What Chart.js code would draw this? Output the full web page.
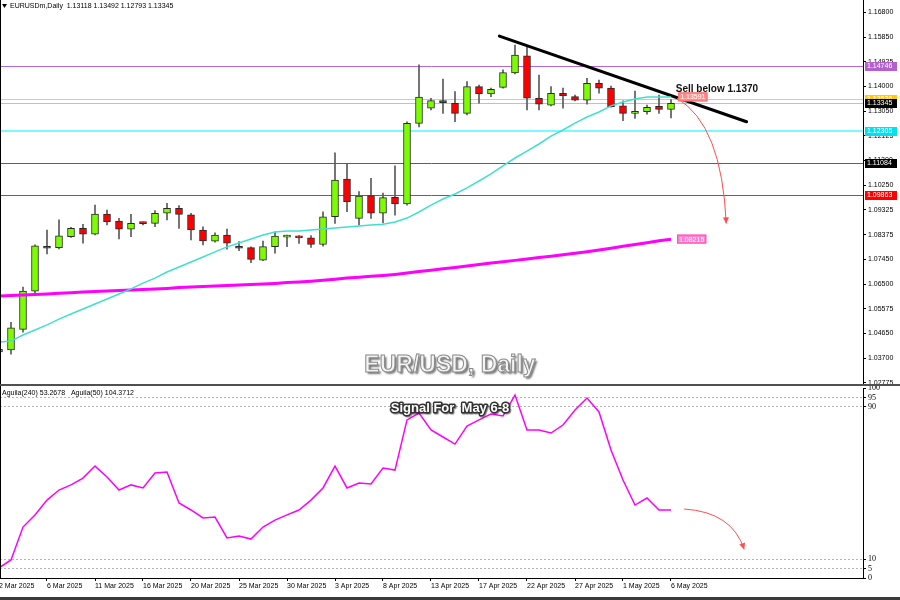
<!DOCTYPE html>
<html>
<head>
<meta charset="utf-8">
<script src="https://cdn.jsdelivr.net/npm/chart.js@4.4.1/dist/chart.umd.min.js"></script>
<style>
html, body { margin: 0; padding: 0; background: #fff; }
#wrap { position: relative; width: 900px; height: 600px; overflow: hidden; background: #fff; }
#main { position: absolute; left: 0; top: 0; }
#ind { position: absolute; left: 0; top: 386px; }
</style>
</head>
<body>
<div id="wrap">
  <canvas id="main" width="900" height="386"></canvas>
  <canvas id="ind" width="900" height="214"></canvas>
</div>
<script>
// daily candles, 2 Mar 2025 (index 0) .. 6 May 2025 (index 56), Sunday bars included
var opens  = [1.0395,1.0402,1.0480,1.0625,1.0793,1.0789,1.0831,1.0862,1.0840,1.0916,
              1.0890,1.0859,1.0881,1.0881,1.0919,1.0938,1.0913,1.0856,1.0814,1.0837,
              1.0793,1.0789,1.0742,1.0793,1.0829,1.0830,1.0826,1.0801,1.0906,1.1048,
              1.0900,1.0986,1.0919,1.0979,1.0954,1.1259,1.1316,1.1345,1.1335,1.1297,
              1.1398,1.1370,1.1395,1.1450,1.1514,1.1354,1.1328,1.1373,1.1360,1.1347,
              1.1410,1.1392,1.1325,1.1297,1.1303,1.1323,1.13118];
var highs  = [1.0410,1.0507,1.0640,1.0800,1.0856,1.0894,1.0866,1.0877,1.0950,1.0931,
              1.0900,1.0915,1.0886,1.0929,1.0957,1.0948,1.0919,1.0868,1.0845,1.0859,
              1.0812,1.0792,1.0814,1.0849,1.0837,1.0835,1.0835,1.0925,1.1148,1.1108,
              1.1001,1.1051,1.0995,1.1098,1.1265,1.1480,1.1354,1.1426,1.1379,1.1417,
              1.1404,1.1392,1.1461,1.1555,1.1549,1.1442,1.1398,1.1392,1.1366,1.1429,
              1.1423,1.1400,1.1344,1.1381,1.1328,1.1366,1.13492];
var lows   = [1.0392,1.0386,1.0470,1.0610,1.0765,1.0784,1.0828,1.0806,1.0837,1.0875,
              1.0822,1.0831,1.0875,1.0868,1.0894,1.0862,1.0818,1.0799,1.0810,1.0783,
              1.0778,1.0732,1.0740,1.0768,1.0793,1.0805,1.0790,1.0795,1.0881,1.0925,
              1.0875,1.0900,1.0883,1.0912,1.0950,1.1246,1.1310,1.1297,1.1265,1.1291,
              1.1335,1.1360,1.1392,1.1446,1.1310,1.1310,1.1325,1.1316,1.1344,1.1332,
              1.1373,1.1320,1.1269,1.1278,1.1294,1.1297,1.12793];
var closes = [1.0405,1.0486,1.0625,1.0796,1.0787,1.0834,1.0862,1.0840,1.0916,1.0887,
              1.0859,1.0881,1.0880,1.0919,1.0938,1.0915,1.0856,1.0815,1.0837,1.0806,
              1.0787,1.0745,1.0793,1.0833,1.0830,1.0826,1.0801,1.0906,1.1045,1.0963,
              1.0984,1.0919,1.0978,1.0954,1.1259,1.1358,1.1345,1.1337,1.1297,1.1398,
              1.1370,1.1388,1.1451,1.1517,1.1354,1.1332,1.1373,1.1364,1.1347,1.1410,
              1.1392,1.1322,1.1297,1.1303,1.1320,1.1312,1.13345];

// moving averages
var ma20  = [1.0432,1.0436,1.0459,1.0478,1.0497,1.0519,1.0538,1.0557,1.0576,1.0595,
             1.0614,1.0633,1.0655,1.0674,1.0697,1.0716,1.0735,1.0754,1.0773,1.0792,
             1.0807,1.0822,1.0837,1.0848,1.0852,1.0852,1.0856,1.0860,1.0863,1.0867,
             1.0871,1.0875,1.0878,1.0886,1.0901,1.0924,1.0950,1.0973,1.0992,1.1015,
             1.1041,1.1068,1.1098,1.1128,1.1154,1.1181,1.1211,1.1234,1.1260,1.1283,
             1.1302,1.1325,1.1340,1.1351,1.1359,1.1359,1.1359];
var ma200 = [1.0606,1.0608,1.0610,1.0612,1.0614,1.0617,1.0619,1.0621,1.0623,1.0625,
             1.0627,1.0629,1.0631,1.0633,1.0635,1.0638,1.0640,1.0642,1.0644,1.0646,
             1.0648,1.0650,1.0652,1.0654,1.0657,1.0659,1.0662,1.0666,1.0670,1.0674,
             1.0677,1.0681,1.0684,1.0688,1.0693,1.0699,1.0704,1.0709,1.0714,1.0720,
             1.0725,1.0731,1.0736,1.0741,1.0746,1.0752,1.0757,1.0762,1.0768,1.0774,
             1.0780,1.0787,1.0794,1.0801,1.0808,1.0815,1.0821];

// Aguila oscillator (lower panel)
var aguila = [5.3,9.5,26.8,33.2,41,46.3,49,52.6,58.9,53.2,
              46.3,49,47.4,55.3,55.8,39.5,35.8,31.6,32.1,21.1,
              22.1,20.5,26.8,30.5,33.2,35.8,41,47.4,58.9,47.4,
              50,49.5,57.9,56.8,83.2,86.8,77.9,74.2,70.5,80,
              83.2,86.3,85.3,96.3,77.9,77.9,76.3,80.5,88.4,94.7,
              87.4,67.4,51.6,38.4,42.1,35.8,35.8];

var priceTicks = [1.16800,1.15850,1.14925,1.14000,1.13050,1.12125,1.11200,1.10250,
                  1.09325,1.08375,1.07450,1.06500,1.05575,1.04650,1.03700,1.02775];
var aguilaTicks = [0, 5, 10, 90, 95, 100];
var dateTickIdx = [0,4,8,12,16,20,24,28,32,36,40,44,48,52,56];
var dateLabels = ['2 Mar 2025','6 Mar 2025','11 Mar 2025','16 Mar 2025','20 Mar 2025',
                  '25 Mar 2025','30 Mar 2025','3 Apr 2025','8 Apr 2025','13 Apr 2025',
                  '17 Apr 2025','22 Apr 2025','27 Apr 2025','1 May 2025','6 May 2025'];

// horizontal levels
var levelPrices = [1.14746, 1.13526, 1.13345, 1.12305, 1.11084, 1.09863];
var levelColors = ['#B866D6', '#FFD700', '#C0C0C0', '#7DF9FF', '#606060', '#FF2020'];
var levelWidths = [1, 1, 1, 2, 1, 1];
var boxColors   = ['#B45FD0', '#FFCC00', '#000000', '#00E0EE', '#000000', '#FF0000'];

// trend line (bar index, price)
var trendPts = [{x: 41.7, y: 1.1589}, {x: 62.3, y: 1.1265}];

var XMIN = 1 / 12, XMAX = 72;
var YMAX = 1.17254, YMIN = 1.02736;
var upColor = '#7CFC00', downColor = '#FF0000';
var axisFont = {family: 'Liberation Sans', size: 7};

var idx = closes.map(function (c, i) { return i; });

function px(chart, i) { return chart.scales.x.getPixelForValue(i); }
function py(chart, v) { return chart.scales.y.getPixelForValue(v); }

function curvedArrow(ctx, x0, y0, cx, cy, x1, y1, color) {
  ctx.save();
  ctx.strokeStyle = color;
  ctx.fillStyle = color;
  ctx.lineWidth = 1;
  ctx.beginPath();
  ctx.moveTo(x0, y0);
  ctx.quadraticCurveTo(cx, cy, x1, y1);
  ctx.stroke();
  var a = Math.atan2(y1 - cy, x1 - cx);
  ctx.beginPath();
  ctx.moveTo(x1, y1);
  ctx.lineTo(x1 - 7 * Math.cos(a - 0.45), y1 - 7 * Math.sin(a - 0.45));
  ctx.lineTo(x1 - 7 * Math.cos(a + 0.45), y1 - 7 * Math.sin(a + 0.45));
  ctx.closePath();
  ctx.fill();
  ctx.restore();
}

function priceTag(ctx, x, y, text, fill, stroke) {
  ctx.save();
  ctx.font = '7px Liberation Sans';
  var w = ctx.measureText(text).width + 4;
  ctx.fillStyle = fill;
  ctx.fillRect(x, y - 4.5, w, 9);
  ctx.strokeStyle = stroke;
  ctx.lineWidth = 1;
  ctx.strokeRect(x + 0.5, y - 4, w - 1, 8);
  ctx.fillStyle = '#fff';
  ctx.textBaseline = 'middle';
  ctx.fillText(text, x + 2, y + 0.5);
  ctx.restore();
}

const mainDecor = {
  id: 'mainDecor',
  beforeDatasetsDraw(chart) {
    const ctx = chart.ctx, a = chart.chartArea;
    ctx.save();
    levelPrices.forEach(function (p, k) {
      var y = Math.round(py(chart, p)) + (levelWidths[k] === 1 ? 0.5 : 0);
      ctx.strokeStyle = levelColors[k];
      ctx.lineWidth = levelWidths[k];
      ctx.beginPath();
      ctx.moveTo(a.left, y);
      ctx.lineTo(a.right, y);
      ctx.stroke();
    });
    ctx.restore();
  },
  afterDatasetsDraw(chart) {
    const ctx = chart.ctx;
    // red curved arrow
    curvedArrow(ctx, px(chart, 56.5), py(chart, 1.1354), px(chart, 60.25), py(chart, 1.1253),
                px(chart, 60.6), py(chart, 1.0880), '#FF4D4D');
    priceTag(ctx, px(chart, 56.6), py(chart, 1.13591), '1.13591', '#FF8C8C', '#FF6A6A');
    priceTag(ctx, px(chart, 56.5), py(chart, 1.08215), '1.08215', '#FF7FD0', '#FF50B0');

    ctx.save();
    ctx.font = 'bold 10px Liberation Sans';
    ctx.fillStyle = '#111';
    ctx.textBaseline = 'middle';
    ctx.fillText('Sell below 1.1370', px(chart, 56.4), py(chart, 1.1389));

    ctx.font = 'bold 23px Liberation Sans';
    ctx.textAlign = 'center';
    ctx.shadowColor = 'rgba(0,0,0,0.55)';
    ctx.shadowOffsetX = 2;
    ctx.shadowOffsetY = 2;
    ctx.shadowBlur = 2;
    ctx.fillStyle = '#f4f4f4';
    ctx.fillText('EUR/USD, Daily', 450, 366);
    ctx.shadowColor = 'transparent';
    ctx.strokeStyle = '#8a8a8a';
    ctx.lineWidth = 1;
    ctx.strokeText('EUR/USD, Daily', 450, 366);
    ctx.restore();
  },
  afterDraw(chart) {
    const ctx = chart.ctx, a = chart.chartArea;
    ctx.save();
    // level boxes on the price axis
    ctx.font = '7px Liberation Sans';
    ctx.textBaseline = 'middle';
    levelPrices.forEach(function (p, k) {
      var y = py(chart, p);
      ctx.fillStyle = boxColors[k];
      ctx.fillRect(a.right + 2, Math.round(y) - 4, 32, 9);
      ctx.fillStyle = '#fff';
      ctx.fillText(p.toFixed(5), a.right + 4, Math.round(y) + 0.5);
    });
    // header
    ctx.fillStyle = '#000';
    ctx.beginPath();
    ctx.moveTo(2, 4); ctx.lineTo(7, 4); ctx.lineTo(4.5, 8); ctx.closePath();
    ctx.fill();
    ctx.fillText('EURUSDm,Daily  1.13118 1.13492 1.12793 1.13345', 10, 6);
    // frame
    ctx.fillStyle = '#000';
    ctx.fillRect(0, 0, 1, 386);
    ctx.fillStyle = '#505050';
    ctx.fillRect(0, 384, 900, 2);
    ctx.restore();
  }
};

new Chart(document.getElementById('main'), {
  type: 'bar',
  data: {
    datasets: [
      {
        label: 'MA20', type: 'line', order: 0,
        data: idx.map(function (i) { return {x: i, y: ma20[i]}; }),
        borderColor: '#40E0D0', borderWidth: 1.5, pointRadius: 0, tension: 0
      },
      {
        label: 'MA200', type: 'line', order: 0,
        data: idx.map(function (i) { return {x: i, y: ma200[i]}; }),
        borderColor: '#FF00FF', borderWidth: 3, pointRadius: 0, tension: 0
      },
      {
        label: 'trend', type: 'line', order: 0,
        data: trendPts,
        borderColor: '#000', borderWidth: 3, pointRadius: 0, borderCapStyle: 'round'
      },
      {
        label: 'body', order: 1, grouped: false,
        data: idx.map(function (i) { return {x: i, y: [opens[i], closes[i]]}; }),
        backgroundColor: function (c) { return closes[c.dataIndex] >= opens[c.dataIndex] ? upColor : downColor; },
        borderColor: '#2a2a2a', borderWidth: 1, borderSkipped: false,
        barThickness: 7, minBarLength: 2
      },
      {
        label: 'wick', order: 2, grouped: false,
        data: idx.map(function (i) { return {x: i, y: [lows[i], highs[i]]}; }),
        backgroundColor: '#5a5a5a', borderWidth: 0, barThickness: 1
      }
    ]
  },
  options: {
    responsive: false,
    animation: false,
    devicePixelRatio: 1,
    layout: {padding: {top: 0, left: 0, right: 0, bottom: 2}},
    plugins: {legend: {display: false}, tooltip: {enabled: false}},
    scales: {
      x: {type: 'linear', min: XMIN, max: XMAX, display: false, offset: false, grid: {offset: false}},
      y: {
        type: 'linear', position: 'right', min: YMIN, max: YMAX,
        afterBuildTicks: function (s) { s.ticks = priceTicks.map(function (v) { return {value: v}; }); },
        afterFit: function (s) { s.width = 37; s.paddingTop = 0; s.paddingBottom = 0; },
        ticks: {
          font: axisFont, color: '#000', padding: 2,
          callback: function (v) { return Number(v).toFixed(5); }
        },
        grid: {drawOnChartArea: false, drawTicks: true, tickLength: 3, color: '#000'},
        border: {display: true, color: '#000', width: 1}
      }
    }
  },
  plugins: [mainDecor]
});

const indDecor = {
  id: 'indDecor',
  afterDatasetsDraw(chart) {
    const ctx = chart.ctx;
    curvedArrow(ctx, px(chart, 57.1), py(chart, 36.3), px(chart, 61.1), py(chart, 34.7),
                px(chart, 62.1), py(chart, 15), '#FF4D4D');
    ctx.save();
    ctx.font = 'bold 13px Liberation Sans';
    ctx.textAlign = 'center';
    ctx.textBaseline = 'middle';
    ctx.shadowColor = 'rgba(0,0,0,0.5)';
    ctx.shadowOffsetX = 1;
    ctx.shadowOffsetY = 1;
    ctx.shadowBlur = 1;
    ctx.strokeStyle = '#333';
    ctx.lineWidth = 3;
    ctx.lineJoin = 'round';
    ctx.strokeText('Signal For  May 6-8', 450, 22);
    ctx.shadowColor = 'transparent';
    ctx.fillStyle = '#fff';
    ctx.fillText('Signal For  May 6-8', 450, 22);
    ctx.restore();
  },
  afterDraw(chart) {
    const ctx = chart.ctx;
    ctx.save();
    ctx.font = '7px Liberation Sans';
    ctx.fillStyle = '#000';
    ctx.textBaseline = 'middle';
    ctx.fillText('Aguila(240) 53.2678   Aguila(50) 104.3712', 2, 7);
    ctx.fillRect(0, 0, 1, 192);
    ctx.fillStyle = '#3a3a3a';
    ctx.fillRect(0, 211, 900, 3);
    ctx.restore();
  }
};

new Chart(document.getElementById('ind'), {
  type: 'line',
  data: {
    datasets: [{
      label: 'Aguila',
      data: idx.map(function (i) { return {x: i, y: aguila[i]}; }),
      borderColor: '#FF00FF', borderWidth: 1.5, pointRadius: 0, tension: 0
    }]
  },
  options: {
    responsive: false,
    animation: false,
    devicePixelRatio: 1,
    layout: {padding: {top: 2, left: 0, right: 0, bottom: 0}},
    plugins: {legend: {display: false}, tooltip: {enabled: false}},
    scales: {
      x: {
        type: 'linear', min: XMIN, max: XMAX, offset: false,
        afterBuildTicks: function (s) { s.ticks = dateTickIdx.map(function (v) { return {value: v}; }); },
        afterFit: function (s) { s.height = 22; s.paddingLeft = 0; s.paddingRight = 0; },
        ticks: {
          autoSkip: false, maxRotation: 0, align: 'start', padding: 1,
          font: axisFont, color: '#000',
          callback: function (v, k) { return dateLabels[k]; }
        },
        grid: {drawOnChartArea: false, drawTicks: true, tickLength: 3, color: '#000', offset: false},
        border: {display: true, color: '#000', width: 1}
      },
      y: {
        type: 'linear', position: 'right', min: 0, max: 100,
        afterBuildTicks: function (s) { s.ticks = aguilaTicks.map(function (v) { return {value: v}; }); },
        afterFit: function (s) { s.width = 37; s.paddingTop = 0; s.paddingBottom = 0; },
        ticks: {font: {family: 'Liberation Serif', size: 8}, color: '#000', padding: 2},
        grid: {
          drawOnChartArea: true, drawTicks: true, tickLength: 3,
          color: function (c) { return (c.tick && [5, 10, 90, 95].indexOf(c.tick.value) >= 0) ? '#b4b4b4' : 'rgba(0,0,0,0)'; },
          tickColor: '#000'
        },
        border: {display: true, color: '#000', width: 1, dash: [2, 2]}
      }
    }
  },
  plugins: [indDecor]
});
</script>
</body>
</html>
